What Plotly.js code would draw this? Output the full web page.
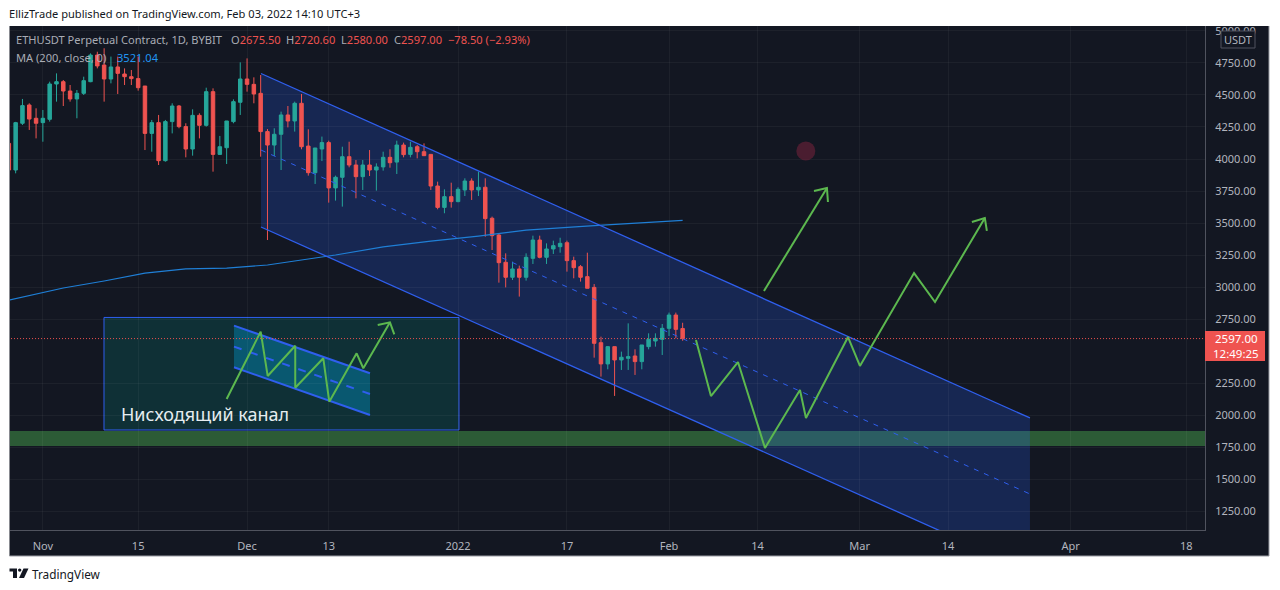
<!DOCTYPE html>
<html><head><meta charset="utf-8">
<script src="https://cdn.plot.ly/plotly-3.0.1.min.js"></script>
<style>html,body{margin:0;padding:0;background:#fff}#c{width:1280px;height:590px}</style>
</head><body><div id="c"></div>
<script>
// candles: first value is 27 Oct 2021, one per day
const opens=[4122,3914,4279,4422,4318,4284,4310,4586,4604,4531,4469,4513,4604,4812,4734,4625,4719,4664,4643,4628,4570,4200,4284,3987,4292,4414,4253,4078,4341,4263,4526,4036,4088,4292,4443,4625,4583,4513,4214,4109,4193,4344,4297,4435,4101,3893,4078,4128,3774,3857,4018,3953,3862,3953,3914,3938,4013,3976,4109,4036,4096,4057,4036,3789,3622,3706,3667,3758,3828,3758,3779,3537,3406,3193,3076,3141,3076,3224,3367,3232,3297,3315,3346,3206,3159,3081,2997,2565,2399,2534,2430,2443,2461,2417,2534,2578,2591,2677,2781,2675.5];
const highs=[4133,4290,4469,4435,4396,4383,4604,4669,4617,4578,4539,4643,4825,4838,4865,4800,4800,4708,4695,4800,4570,4305,4344,4305,4435,4422,4279,4388,4357,4557,4552,4180,4297,4466,4755,4786,4638,4656,4234,4240,4370,4414,4448,4508,4232,4086,4175,4143,3870,4096,4135,3992,3992,4070,3966,4057,4076,4143,4128,4135,4109,4122,4039,3823,3763,3815,3779,3849,3849,3901,3849,3550,3414,3263,3198,3167,3263,3401,3401,3341,3362,3385,3362,3237,3172,3268,3023,2612,2539,2534,2495,2716,2513,2547,2638,2638,2711,2800,2800,2720.6];
const lows=[3898,3888,4266,4227,4161,4135,4292,4448,4414,4448,4318,4500,4600,4708,4448,4591,4508,4578,4578,4534,4070,4057,3953,3979,4200,4240,4013,4026,4161,4253,3901,4031,3961,4279,4344,4526,4435,4018,3367,4023,3914,4247,4214,4076,3870,3805,3984,3659,3675,3628,3935,3693,3758,3867,3753,3909,3932,3883,4013,4013,4005,4023,3758,3607,3576,3620,3662,3711,3680,3711,3393,3289,3034,2997,3055,2925,3050,3180,3224,3180,3258,3268,3120,3068,3042,2990,2448,2300,2357,2149,2352,2352,2313,2357,2513,2534,2469,2617,2599,2580];
const closes=[3914,4284,4417,4312,4279,4318,4586,4604,4531,4469,4513,4612,4812,4727,4625,4719,4669,4643,4628,4557,4200,4284,3987,4292,4414,4253,4078,4341,4263,4526,4036,4096,4297,4448,4625,4583,4508,4214,4109,4193,4344,4297,4435,4096,3893,4086,4128,3774,3857,4018,3953,3862,3953,3914,3938,4013,3971,4109,4034,4091,4057,4026,3789,3622,3706,3667,3763,3828,3758,3779,3534,3401,3190,3076,3141,3076,3232,3367,3232,3297,3323,3341,3206,3151,3076,2990,2560,2399,2534,2430,2451,2456,2417,2547,2591,2599,2677,2781,2669,2597];
// day offsets below are counted from 1 Nov 2021
const firstCandleDay=-5;
const maDays=[-5,3,9,15,21,27,33,38,43,50,57,64,71,81,88,94];
const maValues=[2898,2992,3047,3109,3141,3148,3172,3211,3250,3313,3359,3398,3445,3480,3500,3521];
const channelDays=[32.05,145.03];
const channelTop=[4668,1977];
const channelMid=[4070,1383];
const channelBottom=[3469,781];
const boxDays=[8.98,61.14];
const boxPrices=[2762,1883];
const bandPrices=[1875,1758];
const miniDays=[28.08,48.06];
const miniTop=[2698,2326];
const miniMid=[2534,2164];
const miniBottom=[2373,2000];
const zigDays=[95.96,98.16,102.13,106.1,111.24,112.12,118.3,120.05,128,131.08,138.4];
const zigPrices=[2586,2148,2414,1742,2195,1977,2609,2383,3109,2883,3539];
const zigHeadDays=[136.5,138.4,138.7];
const zigHeadPrices=[3508,3539,3438];
const arrowDays=[105.95,115.2];
const arrowPrices=[2969,3773];
const arrowHeadDays=[113.3,115.2,115.35];
const arrowHeadPrices=[3750,3773,3664];
const miniZigDays=[27,32,33.03,37.08,37.08,41.2,42.08,46.1,47.08,51];
const miniZigPrices=[2125,2651,2305,2541,2213,2443,2104,2482,2365,2724];
const miniHeadDays=[49.2,51,51.63];
const miniHeadPrices=[2703,2724,2630];
const markerDay=[112.1];
const markerPrice=[4062];
const lastPrice=2597;
const xTickDays=[0,14,30,42,61,77,92,105,120,133,151,168];
const xTickText=['Nov','15','Dec','13','2022','17','Feb','14','Mar','14','Apr','18'];
const yTicks=[5000,4750,4500,4250,4000,3750,3500,3250,3000,2750,2250,2000,1750,1500,1250];

const FONT='"Noto Sans", sans-serif';
const BG='#131722', GRID='rgba(255,255,255,0.045)', AX='#b2b5be', BLUE='#2f5fee', GREEN='#5cb84f', MA='#1f7fd6';
const day=d=>new Date(Date.UTC(2021,10,1)+d*864e5).toISOString().slice(0,19);
const pathDay=d=>day(d).slice(0,16).replace('T','_');
const P=(ds)=>ds.map(day);
const L=(x,y,color,width,dash)=>({type:'scatter',mode:'lines',x:P(x),y:y,line:{color:color,width:width,dash:dash||'solid'},hoverinfo:'skip',showlegend:false});

const traces=[
 {type:'candlestick',x:opens.map((_,i)=>day(firstCandleDay+i)),open:opens,high:highs,low:lows,close:closes,
  increasing:{line:{color:'#26a69a',width:1},fillcolor:'#26a69a'},decreasing:{line:{color:'#ef5350',width:1},fillcolor:'#ef5350'},
  whiskerwidth:0,showlegend:false,hoverinfo:'skip'},
 L(maDays,maValues,MA,1.2),
 L(channelDays,channelTop,BLUE,1.3),
 L(channelDays,channelBottom,BLUE,1.3),
 L(channelDays,channelMid,BLUE,1,'5px,6px'),
 L(miniDays,miniTop,BLUE,2),
 L(miniDays,miniBottom,BLUE,2),
 L(miniDays,miniMid,BLUE,2,'8px,9px'),
 L(miniZigDays,miniZigPrices,GREEN,2),
 L(miniHeadDays,miniHeadPrices,GREEN,2),
 L(zigDays,zigPrices,GREEN,2),
 L(zigHeadDays,zigHeadPrices,GREEN,2),
 L(arrowDays,arrowPrices,GREEN,2),
 L(arrowHeadDays,arrowHeadPrices,GREEN,2),
 L([-6,172],[lastPrice,lastPrice],'#ef5350',1,'1px,2px'),
 {type:'scatter',mode:'markers',x:P(markerDay),y:markerPrice,marker:{size:19,color:'rgba(120,35,60,0.55)'},hoverinfo:'skip',showlegend:false}
];

const PL=10,PR=1205,PT=26,PB=530;
const px=x=>(x-PL)/(PR-PL), py=y=>(PB-y)/(PB-PT);
const rectD=(x0,x1,y0,y1,fill,line)=>({type:'rect',xref:'x',yref:'y',x0:day(x0),x1:day(x1),y0:y0,y1:y1,fillcolor:fill,line:line||{width:0},layer:'below'});
const poly=(xs,ys,fill)=>({type:'path',xref:'x',yref:'y',layer:'below',fillcolor:fill,line:{width:0},
  path:'M'+xs.map((x,i)=>pathDay(x)+','+ys[i]).join('L')+'Z'});
const rectP=(x0,x1,y0,y1,fill,line,layer)=>({type:'rect',xref:'paper',yref:'paper',x0:px(x0),x1:px(x1),y0:py(y1),y1:py(y0),fillcolor:fill,line:line||{width:0},layer:layer||'above'});
const pathP=(pts,fill)=>({type:'path',xref:'paper',yref:'paper',fillcolor:fill,line:{width:0},layer:'above',
  path:'M'+pts.map(p=>px(p[0])+','+py(p[1])).join('L')+'Z'});
const lineP=(x0,y0,x1,y1,c)=>({type:'line',xref:'paper',yref:'paper',x0:px(x0),x1:px(x1),y0:py(y0),y1:py(y1),line:{color:c,width:1},layer:'above'});

const shapes=[
 rectP(9.5,1269,26,556,BG,{width:0},'below'),
 rectD(boxDays[0],boxDays[1],boxPrices[1],boxPrices[0],'rgba(0,150,136,0.2)',{color:BLUE,width:1}),
 poly([channelDays[0],channelDays[1],channelDays[1],channelDays[0]],[channelTop[0],channelTop[1],channelBottom[1],channelBottom[0]],'rgba(41,98,255,0.22)'),
 {type:'rect',xref:'paper',yref:'y',x0:0,x1:1,y0:bandPrices[1],y1:bandPrices[0],fillcolor:'rgba(76,175,80,0.45)',line:{width:0},layer:'below'},
 poly([miniDays[0],miniDays[1],miniDays[1],miniDays[0]],[miniTop[0],miniTop[1],miniBottom[1],miniBottom[0]],'rgba(0,150,200,0.4)'),
 lineP(1269,26,1269,556,'#9a9ca3'),
 lineP(9.5,556,1269,556,'#9a9ca3'),
 rectP(1205,1265,331,361,'#ef5350'),
 rectP(1221,1255,31,48,BG,{color:'#50535e',width:1}),
 pathP([[9.5,568.5],[17,568.5],[17,578],[13,578],[13,571.5],[9.5,571.5]],'#131722'),
 pathP([[23.5,568.5],[28.5,568.5],[24,578],[19,578]],'#131722'),
 {type:'circle',xref:'paper',yref:'paper',x0:px(18),x1:px(21.4),y0:py(571.8),y1:py(568.4),fillcolor:'#131722',line:{width:0},layer:'above'}
];

const ann=(x,y,text,size,color,xanchor)=>({xref:'paper',yref:'paper',x:px(x),y:py(y),text:text,showarrow:false,xanchor:xanchor||'left',yanchor:'middle',
  font:{family:FONT,size:size,color:color},align:'left',borderpad:0,borderwidth:0});
const g=t=>'<span style="color:#a9acb5">'+t+'</span>', r=t=>'<span style="color:#ef5350">'+t+'</span>';
const LEG=11.1;
const annotations=[
 ann(9,13,'EllizTrade published on TradingView.com, Feb 03, 2022 14:10 UTC+3',11.1,'#131722'),
 ann(16,39.5,g('ETHUSDT Perpetual Contract, 1D, BYBIT'),LEG,'#a9acb5'),
 ann(231,39.5,g('O')+r('2675.50'),LEG,'#a9acb5'),
 ann(286,39.5,g('H')+r('2720.60'),LEG,'#a9acb5'),
 ann(341,39.5,g('L')+r('2580.00'),LEG,'#a9acb5'),
 ann(394,39.5,g('C')+r('2597.00'),LEG,'#a9acb5'),
 ann(448,39.5,r('−78.50 (−2.93%)'),LEG,'#ef5350'),
 ann(16,57,g('MA (200, close, 0)'),LEG,'#a9acb5'),
 ann(117,57,'<span style="color:#2196f3">3521.04</span>',LEG,'#2196f3'),
 ann(1238,39.5,'USDT',11,'#b2b5be','center'),
 ann(1236,338.5,'2597.00',11.5,'#ffffff','center'),
 ann(1236,353.5,'12:49:25',11.5,'#ffffff','center'),
 ann(121,414,'Нисходящий канал',18,'#e6edf0'),
 ann(32,573.5,'TradingView',11.8,'#131722')
];

const layout={
 width:1280,height:590,margin:{l:PL,r:1280-PR,t:PT,b:590-PB,pad:0},
 paper_bgcolor:'#ffffff',plot_bgcolor:BG,showlegend:false,dragmode:false,boxgap:0.27,
 font:{family:FONT,color:AX,size:11},
 xaxis:{type:'date',range:[day(-4.83),day(170.75)],rangeslider:{visible:false},
   tickmode:'array',tickvals:xTickDays.map(day),ticktext:xTickText,ticks:'',ticklabelstandoff:6,tickfont:{family:FONT,size:11,color:AX},
   showgrid:true,gridcolor:GRID,gridwidth:1,showline:true,linecolor:'#50535e',linewidth:1,zeroline:false},
 yaxis:{side:'right',range:[1101.6,5039],tickmode:'array',tickvals:yTicks,ticktext:yTicks.map(v=>v.toFixed(2)),ticks:'',ticklabelstandoff:7,
   tickfont:{family:FONT,size:11,color:AX},showgrid:true,gridcolor:GRID,gridwidth:1,showline:true,linecolor:'#50535e',linewidth:1,zeroline:false},
 shapes:shapes,annotations:annotations
};
Plotly.newPlot('c',traces,layout,{displayModeBar:false,staticPlot:true});
</script></body></html>
